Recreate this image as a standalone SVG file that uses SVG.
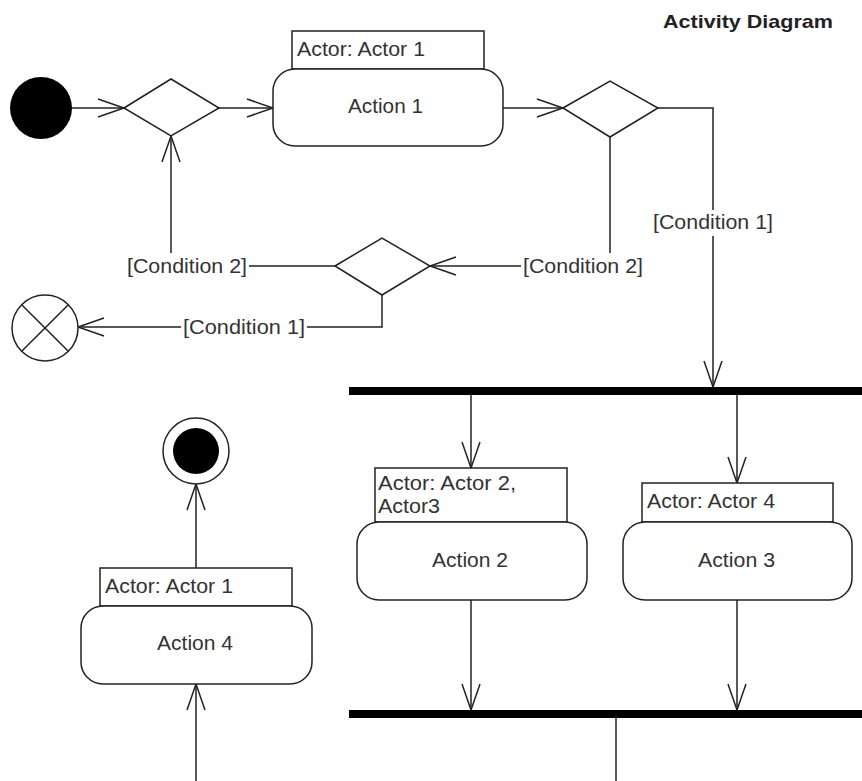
<svg xmlns="http://www.w3.org/2000/svg" width="862" height="781" viewBox="0 0 862 781">
  <style>
    .ln { fill: none; stroke: #222; stroke-width: 1.5; }
    .shape { fill: #fff; stroke: #222; stroke-width: 1.5; }
    .txt { font-family: "Liberation Sans", Arial, sans-serif; font-size: 20px; fill: #333; }
    .mid { text-anchor: middle; }
    .title { font-family: "Liberation Sans", Arial, sans-serif; font-size: 19px; font-weight: bold; fill: #222; }
    .bar { fill: #000; }
    .lblbg { fill: #fff; }
  </style>
  <defs>
    <marker id="open" markerUnits="userSpaceOnUse" markerWidth="40" markerHeight="30" viewBox="-30 -15 40 30" refX="0" refY="0" orient="auto">
      <path d="M-26,-9 L0,0 L-26,9" fill="none" stroke="#222" stroke-width="1.5"/>
    </marker>
  </defs>
  <rect width="862" height="781" fill="#fff"/>

  <text class="title" x="663" y="28" textLength="170" lengthAdjust="spacingAndGlyphs">Activity Diagram</text>

  <!-- connectors -->
  <g id="connectors">
    <path class="ln" d="M72,108 L124,108" marker-end="url(#open)"/>
    <path class="ln" d="M219,108 L273,108" marker-end="url(#open)"/>
    <path class="ln" d="M503,108 L563,108" marker-end="url(#open)"/>
    <path class="ln" d="M658,108 L713,108 L713,387" marker-end="url(#open)"/>
    <path class="ln" d="M610,137 L610,266 L430,266" marker-end="url(#open)"/>
    <path class="ln" d="M335,266 L171,266 L171,136" marker-end="url(#open)"/>
    <path class="ln" d="M382,295 L382,327 L78,327" marker-end="url(#open)"/>
    <path class="ln" d="M471,395 L471,468" marker-end="url(#open)"/>
    <path class="ln" d="M737,395 L737,483" marker-end="url(#open)"/>
    <path class="ln" d="M471,600 L471,710" marker-end="url(#open)"/>
    <path class="ln" d="M737,600 L737,710" marker-end="url(#open)"/>
    <path class="ln" d="M616,718 L616,781"/>
    <path class="ln" d="M196,781 L196,684" marker-end="url(#open)"/>
    <path class="ln" d="M196,568 L196,484" marker-end="url(#open)"/>

    <!-- guard labels -->
    <rect class="lblbg" x="651" y="210" width="124" height="26"/>
    <text class="txt" x="653" y="229" textLength="120" lengthAdjust="spacingAndGlyphs">[Condition 1]</text>
    <rect class="lblbg" x="521" y="253" width="124" height="26"/>
    <text class="txt" x="523" y="273" textLength="120" lengthAdjust="spacingAndGlyphs">[Condition 2]</text>
    <rect class="lblbg" x="125" y="253" width="124" height="26"/>
    <text class="txt" x="127" y="273" textLength="120" lengthAdjust="spacingAndGlyphs">[Condition 2]</text>
    <rect class="lblbg" x="181" y="314" width="126" height="26"/>
    <text class="txt" x="183" y="334" textLength="122" lengthAdjust="spacingAndGlyphs">[Condition 1]</text>
  </g>

  <!-- initial node -->
  <g id="initial">
    <circle cx="41" cy="108" r="31" fill="#000"/>
  </g>

  <!-- decisions -->
  <g id="decision1">
    <polygon class="shape" points="124,108 171,79 219,108 171,136"/>
  </g>
  <g id="decision2">
    <polygon class="shape" points="563,108 610,81 658,108 610,137"/>
  </g>
  <g id="decision3">
    <polygon class="shape" points="335,266 382,238 430,266 382,295"/>
  </g>

  <!-- flow final -->
  <g id="flowFinal">
    <circle class="shape" cx="45" cy="328" r="33"/>
    <path class="ln" d="M21.7,304.7 L68.3,351.3 M68.3,304.7 L21.7,351.3"/>
  </g>

  <!-- activity final -->
  <g id="activityFinal">
    <circle class="shape" cx="196" cy="451" r="33"/>
    <circle cx="196" cy="451" r="23" fill="#000"/>
  </g>

  <!-- Action 1 -->
  <g id="action1">
    <rect class="shape" x="292" y="31" width="192" height="38"/>
    <text class="txt" x="297" y="56" textLength="128" lengthAdjust="spacingAndGlyphs">Actor: Actor 1</text>
    <rect class="shape" x="273" y="69" width="230" height="77" rx="22" ry="22"/>
    <text class="txt" x="348" y="113" textLength="75" lengthAdjust="spacingAndGlyphs">Action 1</text>
  </g>

  <!-- fork / join bars -->
  <g id="fork">
    <rect class="bar" x="349" y="387" width="513" height="8"/>
  </g>
  <g id="join">
    <rect class="bar" x="349" y="710" width="513" height="8"/>
  </g>

  <!-- Action 2 -->
  <g id="action2">
    <rect class="shape" x="375" y="468" width="192" height="54"/>
    <text class="txt" x="378" y="490" textLength="138" lengthAdjust="spacingAndGlyphs">Actor: Actor 2,</text>
    <text class="txt" x="378" y="513" textLength="62" lengthAdjust="spacingAndGlyphs">Actor3</text>
    <rect class="shape" x="357" y="522" width="230" height="78" rx="22" ry="22"/>
    <text class="txt" x="432" y="567" textLength="76" lengthAdjust="spacingAndGlyphs">Action 2</text>
  </g>

  <!-- Action 3 -->
  <g id="action3">
    <rect class="shape" x="642" y="483" width="191" height="39"/>
    <text class="txt" x="647" y="508" textLength="128" lengthAdjust="spacingAndGlyphs">Actor: Actor 4</text>
    <rect class="shape" x="623" y="522" width="229" height="78" rx="22" ry="22"/>
    <text class="txt" x="698" y="567" textLength="77" lengthAdjust="spacingAndGlyphs">Action 3</text>
  </g>

  <!-- Action 4 -->
  <g id="action4">
    <rect class="shape" x="100" y="568" width="192" height="38"/>
    <text class="txt" x="105" y="593" textLength="128" lengthAdjust="spacingAndGlyphs">Actor: Actor 1</text>
    <rect class="shape" x="81" y="606" width="231" height="78" rx="22" ry="22"/>
    <text class="txt" x="157" y="650" textLength="76" lengthAdjust="spacingAndGlyphs">Action 4</text>
  </g>
</svg>
